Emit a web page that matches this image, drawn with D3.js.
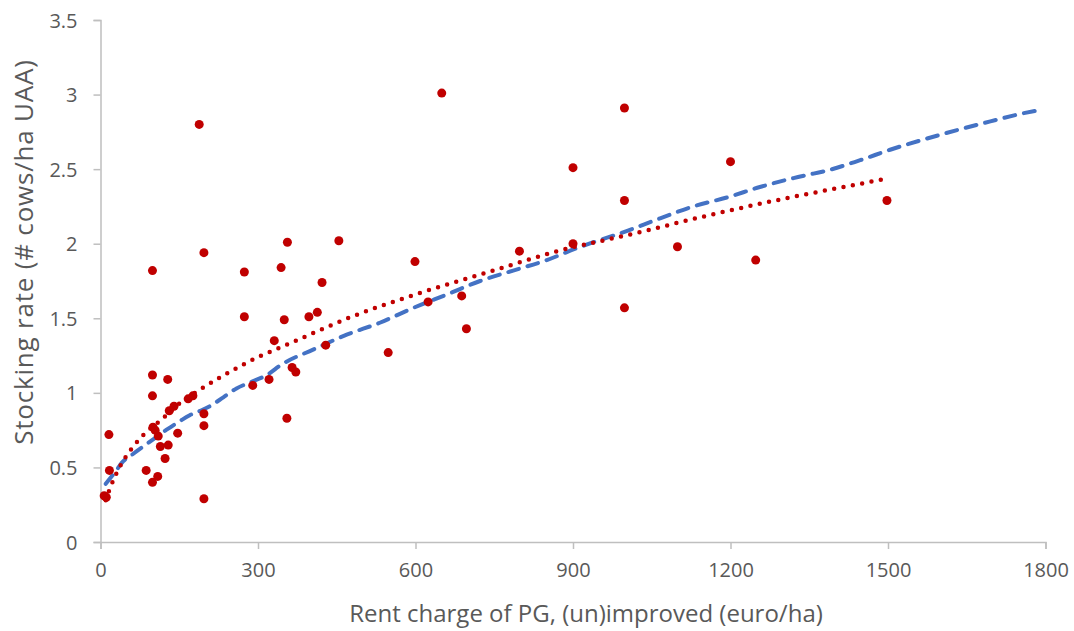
<!DOCTYPE html>
<html>
<head>
<meta charset="utf-8">
<script src="https://cdn.jsdelivr.net/npm/d3@7"></script>
<style>
  body { margin: 0; background: #fff; }
  svg text { font-family: "Open Sans", "Noto Sans", sans-serif; fill: #595959; }
</style>
</head>
<body>
<svg id="chart" width="1074" height="631"></svg>
<script>
// scatter points (rent euro/ha, cows/ha UAA)
let rent = [7, 11, 16, 17, 87, 99, 99, 99, 100, 104, 99, 110, 109, 114, 123, 128, 129, 147, 131, 140,
            167, 176, 188, 197, 197, 197, 197, 274, 274, 290, 321, 331, 344, 350, 356, 355, 365, 372,
            397, 413, 422, 429, 454, 548, 599, 624, 650, 688, 697, 798, 900, 900, 998, 998, 998,
            1099, 1200, 1248, 1498]
let stocking = [0.31, 0.30, 0.72, 0.48, 0.48, 1.82, 1.12, 0.98, 0.77, 0.75, 0.40, 0.71, 0.44, 0.64, 0.56, 1.09, 0.65, 0.73, 0.88, 0.91,
                0.96, 0.98, 2.80, 1.94, 0.86, 0.78, 0.29, 1.81, 1.51, 1.05, 1.09, 1.35, 1.84, 1.49, 2.01, 0.83, 1.17, 1.14,
                1.51, 1.54, 1.74, 1.32, 2.02, 1.27, 1.88, 1.61, 3.01, 1.65, 1.43, 1.95, 2.51, 2.00, 2.91, 2.29, 1.57,
                1.98, 2.55, 1.89, 2.29]

// red dotted trend line
let trendX = [10, 18, 36, 58, 85, 116, 147, 180, 231, 300, 353, 478, 609, 739, 870, 1006, 1158, 1313, 1430, 1488]
let trendY = [0.28, 0.36, 0.50, 0.62, 0.73, 0.82, 0.92, 1.00, 1.11, 1.24, 1.32, 1.51, 1.67, 1.81, 1.95, 2.06, 2.19, 2.31, 2.39, 2.43]

// blue dashed curve
let curveX = [10, 28, 43, 62, 85, 101, 129, 151, 170, 190, 208, 234, 259, 285, 317, 345, 405, 469, 532, 596,
              660, 723, 786, 850, 907, 939, 990, 1066, 1129, 1193, 1256, 1320, 1358, 1383, 1447, 1504, 1599, 1695, 1752, 1793]
let curveY = [0.39, 0.47, 0.54, 0.59, 0.65, 0.69, 0.76, 0.81, 0.85, 0.88, 0.91, 0.97, 1.03, 1.07, 1.12, 1.19, 1.29, 1.39, 1.47, 1.57,
              1.66, 1.75, 1.82, 1.89, 1.97, 2.01, 2.07, 2.17, 2.25, 2.31, 2.38, 2.44, 2.47, 2.49, 2.56, 2.63, 2.73, 2.82, 2.87, 2.90]

let xTicks = [0, 300, 600, 900, 1200, 1500, 1800]
let yTicks = [0, 0.5, 1, 1.5, 2, 2.5, 3, 3.5]

let svg = d3.select('#chart')
let plotLeft = 100.5, plotRight = 1045.5, plotTop = 20, plotBottom = 542

let x = d3.scaleLinear().domain([0, 1800]).range([plotLeft, plotRight])
let y = d3.scaleLinear().domain([0, 3.5]).range([plotBottom, plotTop])

// axes
let xAxis = svg.append('g')
    .attr('transform', 'translate(0,' + plotBottom + ')')
    .call(d3.axisBottom(x).tickValues(xTicks).tickSize(7).tickPadding(14).tickFormat(d3.format('d')))
let yAxis = svg.append('g')
    .attr('transform', 'translate(' + plotLeft + ',0)')
    .call(d3.axisLeft(y).tickValues(yTicks).tickSize(7).tickPadding(16).tickFormat(d => String(d)))

svg.selectAll('.domain').attr('stroke', '#BFBFBF').attr('stroke-width', 1.5)
svg.selectAll('.tick line').attr('stroke', '#BFBFBF').attr('stroke-width', 1.5)
svg.selectAll('.tick text').style('font-size', '20px').attr('fill', '#595959')
xAxis.selectAll('.tick text').attr('dy', '0.71em')
yAxis.selectAll('.tick text').attr('dy', '0.35em')

// blue dashed curve
let curvePts = curveX.map((d, i) => [d, curveY[i]])
svg.append('path')
    .datum(curvePts)
    .attr('fill', 'none')
    .attr('stroke', '#4472C4')
    .attr('stroke-width', 4)
    .attr('stroke-linecap', 'round')
    .attr('stroke-dasharray', '11 9')
    .attr('d', d3.line().x(d => x(d[0])).y(d => y(d[1])).curve(d3.curveMonotoneX))

// red dotted trend
let trendPts = trendX.map((d, i) => [d, trendY[i]])
svg.append('path')
    .datum(trendPts)
    .attr('fill', 'none')
    .attr('stroke', '#C00000')
    .attr('stroke-width', 4.5)
    .attr('stroke-linecap', 'round')
    .attr('stroke-dasharray', '0 9.5')
    .attr('d', d3.line().x(d => x(d[0])).y(d => y(d[1])).curve(d3.curveMonotoneX))

// points
svg.append('g').selectAll('circle')
    .data(rent.map((d, i) => [d, stocking[i]]))
    .enter()
    .append('circle')
    .attr('cx', d => x(d[0]))
    .attr('cy', d => y(d[1]))
    .attr('r', 4.5)
    .attr('fill', '#C00000')

// axis titles
svg.append('text')
    .attr('x', 586)
    .attr('y', 622)
    .attr('text-anchor', 'middle')
    .style('font-size', '24px')
    .text('Rent charge of PG, (un)improved (euro/ha)')

svg.append('text')
    .attr('transform', 'translate(33,252) rotate(-90)')
    .attr('text-anchor', 'middle')
    .style('font-size', '26px')
    .style('letter-spacing', '0.8px')
    .text('Stocking rate (# cows/ha UAA)')
</script>
</body>
</html>
